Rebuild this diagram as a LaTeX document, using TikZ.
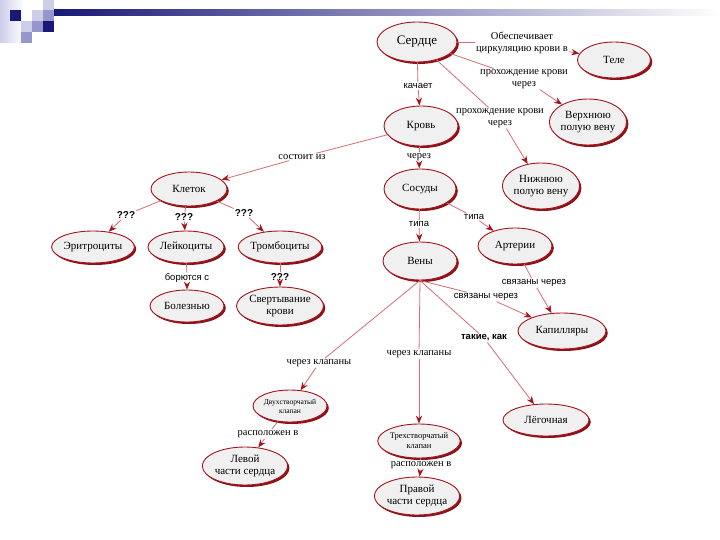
\documentclass[tikz,border=0pt]{standalone}
\usepackage{fontspec}
\setmainfont{Liberation Serif}
\setsansfont{Liberation Sans}
\usetikzlibrary{arrows.meta,shapes.geometric,shadows}
\definecolor{navy}{RGB}{24,24,120}
\definecolor{lavmid}{RGB}{150,150,205}
\definecolor{lavlight}{RGB}{204,206,234}
\definecolor{rim}{RGB}{165,20,30}
\definecolor{linkred}{RGB}{212,110,115}
\tikzset{concept/.style={ellipse,draw=rim,line width=0.9pt,fill=gray!12,inner sep=0pt,align=center,
    minimum width=74pt,minimum height=36pt,font=\fontsize{11}{12}\selectfont,
    drop shadow={shadow xshift=1.8pt,shadow yshift=-2pt,fill=rim!85!black,opacity=1}},
  lab/.style={inner sep=1pt,align=center,font=\fontsize{10.5}{11.5}\selectfont},
  labs/.style={lab,font=\sffamily\fontsize{9.5}{10.5}\selectfont},
  ask/.style={lab,font=\sffamily\bfseries\fontsize{10}{11}\selectfont},
  link/.style={draw=linkred,line width=0.8pt},
  arr/.style={link,-{Stealth[length=2.8mm,width=2.2mm,color=rim]}}}

\begin{document}
\begin{tikzpicture}[x=1pt,y=-1pt]
\useasboundingbox (0,0) rectangle (720,540);
\fill[white] (0,0) rectangle (720,540);
% header squares and bar
\shade[left color=lavlight,right color=white] (0,0) rectangle (24,43);
\fill[navy] (10,10) rectangle (21,21); \fill[lavlight] (32,10) rectangle (43,21);
\fill[lavlight] (43,0) rectangle (54,10); \fill[lavmid] (43,10) rectangle (54,21);
\fill[lavlight] (21,21) rectangle (32,32); \fill[lavmid] (32,21) rectangle (43,32);
\fill[navy] (43,21) rectangle (54,32); \fill[lavmid] (21,32) rectangle (32,43);
\shade[left color=navy,right color=white] (54,10) rectangle (720,16);

% concepts
\node[concept,minimum width=80pt,minimum height=40pt,font=\fontsize{13}{14}\selectfont] (serdce) at (417,42) {Сердце};
\node[concept,minimum width=73pt] (tele) at (614,60) {Теле};
\node[concept,minimum width=71pt,minimum height=46pt] (verh) at (588,122) {Верхнюю\\полую вену};
\node[concept,minimum height=40pt] (krov) at (421,126) {Кровь};
\node[concept,minimum width=72pt,minimum height=46pt] (nizh) at (541,186) {Нижнюю\\полую вену};
\node[concept,minimum width=76pt,minimum height=34pt] (kletok) at (189,189) {Клеток};
\node[concept,minimum width=72pt,minimum height=40pt] (sosudy) at (420,189) {Сосуды};
\node[concept,minimum width=74pt,minimum height=32pt] (eritr) at (93,247) {Эритроциты};
\node[concept,minimum width=76pt,minimum height=32pt] (leik) at (186,247) {Лейкоциты};
\node[concept,minimum width=76pt,minimum height=32pt] (tromb) at (280,247) {Тромбоциты};
\node[concept] (arter) at (515,246) {Артерии};
\node[concept,minimum height=38pt] (veny) at (420,261) {Вены};
\node[concept,minimum height=32pt] (bolezn) at (187,306) {Болезнью};
\node[concept,minimum height=38pt] (svert) at (280,306) {Свертывание\\крови};
\node[concept,minimum width=88pt] (kapil) at (562,331) {Капилляры};
\node[concept,minimum width=68pt,minimum height=32pt,font=\fontsize{7.5}{9}\selectfont] (dvuh) at (290,406) {Двухстворчатый\\клапан};
\node[concept,minimum width=86pt,minimum height=32pt] (legoch) at (546,420) {Лёгочная};
\node[concept,minimum width=73pt,minimum height=34pt,font=\fontsize{8.5}{10}\selectfont] (treh) at (419,441) {Трехстворчатый\\клапан};
\node[concept,minimum width=75pt,minimum height=38pt] (levoy) at (245,466) {Левой\\части сердца};
\node[concept,minimum width=70pt,minimum height=38pt] (pravoy) at (417,496) {Правой\\части сердца};

% linking phrases
\node[lab] (l1) at (522,43) {Обеспечивает\\циркуляцию крови в};
\node[lab] (l2) at (524,79) {прохождение крови\\через};
\node[labs] (l3) at (418,86) {качает};
\node[lab] (l4) at (500,118) {прохождение крови\\через};
\node[lab] (l5) at (302,157) {состоит из};
\node[lab] (l6) at (419,157) {через};
\node[ask] (l7) at (126,215) {???};
\node[ask] (l8) at (184,217) {???};
\node[ask] (l9) at (244,213) {???};
\node[labs] (l10) at (187,278) {борются с};
\node[ask] (l11) at (280,277) {???};
\node[labs] (l12) at (419,224) {типа};
\node[labs] (l13) at (474,217) {типа};
\node[labs] (l14) at (534,283) {связаны через};
\node[labs] (l15) at (486,297) {связаны через};
\node[labs,font=\sffamily\bfseries\fontsize{9.5}{10.5}\selectfont] (l16) at (484,338) {такие, как};
\node[lab] (l17) at (319,363) {через клапаны};
\node[lab] (l18) at (419,354) {через клапаны};
\node[lab] (l19) at (268,434) {расположен в};
\node[lab] (l20) at (421,465) {расположен в};

% connectors
\draw[link] (serdce) -- (l1); \draw[arr] (l1) -- (tele);
\draw[link] (serdce) -- (l2); \draw[arr] (l2) -- (verh);
\draw[link] (serdce) -- (l3); \draw[arr] (l3) -- (krov);
\draw[link] (serdce) -- (l4); \draw[arr] (l4) -- (nizh);
\draw[link] (krov) -- (l5); \draw[arr] (l5) -- (kletok);
\draw[link] (krov) -- (l6); \draw[arr] (l6) -- (sosudy);
\draw[link] (kletok) -- (l7); \draw[arr] (l7) -- (eritr);
\draw[link] (kletok) -- (l8); \draw[arr] (l8) -- (leik);
\draw[link] (kletok) -- (l9); \draw[arr] (l9) -- (tromb);
\draw[link] (leik) -- (l10); \draw[arr] (l10) -- (bolezn);
\draw[link] (tromb) -- (l11); \draw[arr] (l11) -- (svert);
\draw[link] (sosudy) -- (l12); \draw[arr] (l12) -- (veny);
\draw[link] (sosudy) -- (l13); \draw[arr] (l13) -- (arter);
\draw[link] (arter) -- (l14); \draw[arr] (l14) -- (kapil);
\draw[link] (veny.south) -- (l15); \draw[arr] (l15) -- (kapil);
\draw[link] (veny.south) -- (l16); \draw[arr] (l16) -- (legoch);
\draw[link] (veny.south) -- (l17); \draw[arr] (l17) -- (dvuh);
\draw[link] (veny.south) -- (l18); \draw[arr] (l18) -- (treh);
\draw[link] (dvuh) -- (l19); \draw[arr] (l19) -- (levoy);
\draw[link] (treh) -- (l20); \draw[arr] (l20) -- (pravoy);
\end{tikzpicture}
\end{document}
